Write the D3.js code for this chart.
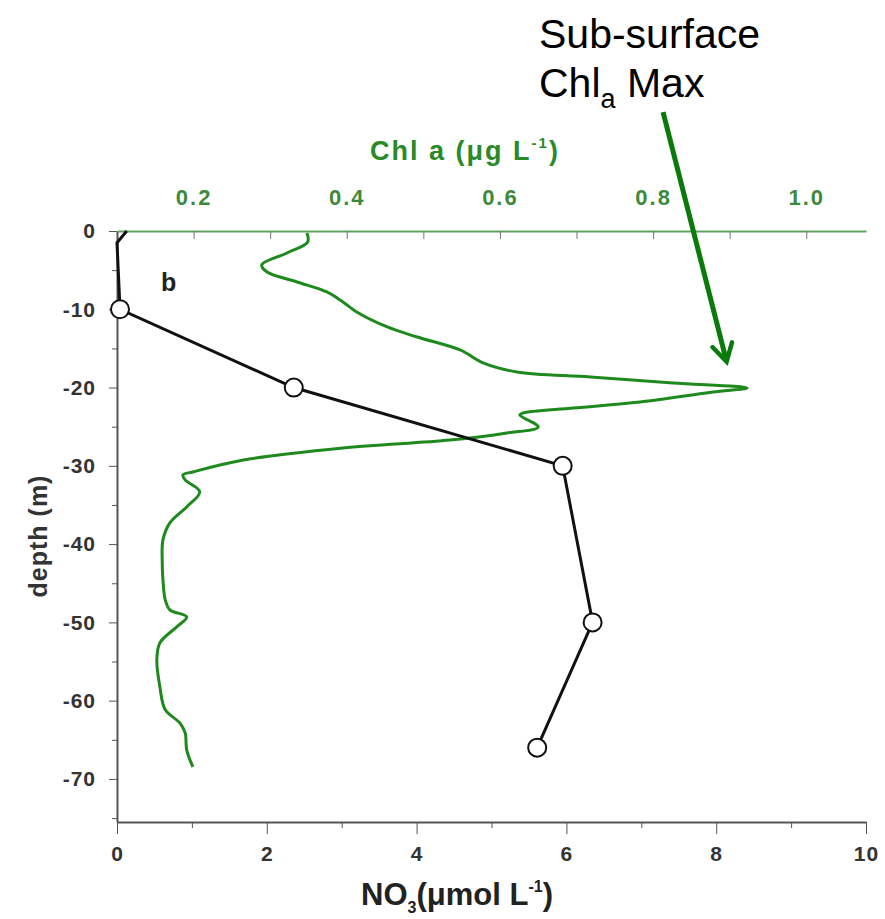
<!DOCTYPE html>
<html lang="en">
<head>
<meta charset="utf-8">
<title>NO3 and Chl a profile</title>
<script src="https://d3js.org/d3.v7.min.js"></script>
<style>
  body { margin: 0; background: #fff; }
  svg text { font-family: "Liberation Sans", Arial, sans-serif; }
  .tk text { font-weight: bold; font-size: 21px; letter-spacing: 1px; }
  .tkc text { font-weight: bold; font-size: 22px; letter-spacing: 2px; }
</style>
</head>
<body>
<script>
// NO3 profile (black line with open circles)
var no3LineDepth = [0, -1.5, -10, -20, -30, -50, -66];
var no3LineValue = [0.13, 0.0, 0.04, 2.36, 5.95, 6.35, 5.61];
var no3MarkDepth = [-10, -20, -30, -50, -66];
var no3MarkValue = [0.04, 2.36, 5.95, 6.35, 5.61];

// Chl a profile (green line)
var chlDepth = [-0.26, -1.4, -2.81, -4.34, -5.24, -6.51, -7.79, -9.07, -10.34, -12.26, -13.54, -15.2,
  -16.86, -18.01, -18.65, -19.41, -20.05, -20.56, -21.84, -22.61, -23.25, -23.5, -25.03, -25.8,
  -26.7, -27.71, -29.25, -30.78, -31.16, -31.8, -33.33, -35.25, -37.29, -39.46, -42.0, -44.57,
  -47.13, -48.4, -49.3, -50.57, -52.62, -54.79, -58.24, -61.17, -62.84, -64.11, -66.28, -68.45];
var chlValue = [0.348, 0.349, 0.322, 0.289, 0.296, 0.335, 0.374, 0.395, 0.413, 0.453, 0.492, 0.548,
  0.578, 0.622, 0.718, 0.826, 0.923, 0.878, 0.783, 0.696, 0.630, 0.626, 0.650, 0.609,
  0.535, 0.395, 0.265, 0.199, 0.186, 0.189, 0.208, 0.191, 0.169, 0.160, 0.159, 0.160,
  0.163, 0.169, 0.191, 0.178, 0.156, 0.152, 0.156, 0.163, 0.182, 0.189, 0.191, 0.199];

var no3Ticks = [0, 2, 4, 6, 8, 10];
var chlTicks = [0.2, 0.4, 0.6, 0.8, 1.0];
var depthTicks = [0, -10, -20, -30, -40, -50, -60, -70];

var w = 885, h = 919;
var mLeft = 117, mRight = 866, mTop = 231, mBottom = 822;
var green = "#1e8a1e";

var svg = d3.select("body").append("svg").attr("width", w).attr("height", h);

var x = d3.scaleLinear().domain([0, 10]).range([mLeft, mRight]);
var xc = d3.scaleLinear().domain([0.1, 1.078]).range([mLeft, mRight]);
var y = d3.scaleLinear().domain([-75.5, 0]).range([mBottom, mTop]);

var plain = function(d) { return String(d); };

// bottom axis: minor then major
svg.append("g").attr("transform", "translate(0," + mBottom + ")")
  .call(d3.axisBottom(x).tickValues(d3.range(1, 10, 2)).tickSize(6).tickFormat(""))
  .call(function(g) { g.select(".domain").remove(); })
  .selectAll("line").attr("stroke", "#555");
svg.append("g").attr("class", "tk").attr("transform", "translate(0," + mBottom + ")")
  .call(d3.axisBottom(x).tickValues(no3Ticks).tickSize(12).tickSizeOuter(0).tickPadding(12).tickFormat(plain))
  .call(function(g) {
    g.select(".domain").attr("stroke", "#555").attr("stroke-width", 2);
    g.selectAll("line").attr("stroke", "#555");
    g.selectAll("text").attr("fill", "#333");
  });

// left axis
svg.append("g").attr("transform", "translate(" + mLeft + ",0)")
  .call(d3.axisLeft(y).tickValues(d3.range(-75, 0, 10)).tickSize(5).tickFormat(""))
  .call(function(g) { g.select(".domain").remove(); })
  .selectAll("line").attr("stroke", "#555");
svg.append("g").attr("class", "tk").attr("transform", "translate(" + mLeft + ",0)")
  .call(d3.axisLeft(y).tickValues(depthTicks).tickSize(8).tickSizeOuter(0).tickPadding(13).tickFormat(plain))
  .call(function(g) {
    g.select(".domain").attr("stroke", "#555").attr("stroke-width", 2);
    g.selectAll("line").attr("stroke", "#555");
    g.selectAll("text").attr("fill", "#333");
  });

// top axis (Chl a), ticks pointing inward
svg.append("g").attr("transform", "translate(0," + mTop + ")")
  .call(d3.axisTop(xc).tickValues([0.3, 0.5, 0.7, 0.9]).tickSize(-8).tickFormat(""))
  .call(function(g) { g.select(".domain").remove(); })
  .selectAll("line").attr("stroke", "#777");
svg.append("g").attr("class", "tkc").attr("transform", "translate(0," + mTop + ")")
  .call(d3.axisTop(xc).tickValues(chlTicks).tickSize(-8).tickSizeOuter(0).tickPadding(26).tickFormat(d3.format(".1f")))
  .call(function(g) {
    g.select(".domain").attr("stroke", "#5fa35f").attr("stroke-width", 2);
    g.selectAll("line").attr("stroke", "#777");
    g.selectAll("text").attr("fill", "#3d8a3d");
  });

// axis titles
svg.append("text").attr("x", 465).attr("y", 160).attr("text-anchor", "middle")
  .attr("font-size", 27).attr("font-weight", "bold").attr("fill", "#2a8a2a")
  .attr("letter-spacing", 2)
  .html('Chl a (\u03bcg L<tspan dy="-12" font-size="15">-1</tspan><tspan dy="12">)</tspan>');

svg.append("text").attr("transform", "translate(47,536) rotate(-90)").attr("text-anchor", "middle")
  .attr("font-size", 25).attr("font-weight", "bold").attr("fill", "#333")
  .attr("letter-spacing", 1)
  .text("depth (m)");

svg.append("text").attr("x", 457).attr("y", 905).attr("text-anchor", "middle")
  .attr("font-size", 31).attr("font-weight", "bold").attr("fill", "#222")
  .html('NO<tspan dy="8" font-size="16">3</tspan><tspan dy="-8">(\u03bcmol L</tspan><tspan dy="-13" font-size="16">-1</tspan><tspan dy="13">)</tspan>');

svg.append("text").attr("x", 161).attr("y", 291).attr("font-size", 25)
  .attr("font-weight", "bold").attr("fill", "#222").text("b");

// Chl a line
var chlData = chlDepth.map(function(d, i) { return { d: d, v: chlValue[i] }; });
svg.append("path").datum(chlData)
  .attr("fill", "none").attr("stroke", green).attr("stroke-width", 3)
  .attr("stroke-linejoin", "round")
  .attr("d", d3.line().x(function(p) { return xc(p.v); }).y(function(p) { return y(p.d); }).curve(d3.curveCatmullRom));

// NO3 line + markers
var no3Data = no3LineDepth.map(function(d, i) { return { d: d, v: no3LineValue[i] }; });
svg.append("path").datum(no3Data)
  .attr("fill", "none").attr("stroke", "#111").attr("stroke-width", 3)
  .attr("d", d3.line().x(function(p) { return x(p.v); }).y(function(p) { return y(p.d); }));

svg.selectAll("circle.m").data(no3MarkDepth).enter().append("circle")
  .attr("class", "m")
  .attr("cx", function(d, i) { return x(no3MarkValue[i]); })
  .attr("cy", function(d) { return y(d); })
  .attr("r", 9).attr("fill", "#fff").attr("stroke", "#111").attr("stroke-width", 2);

// annotation
svg.append("defs").append("marker").attr("id", "ah")
  .attr("viewBox", "0 0 10 10").attr("refX", 8).attr("refY", 5)
  .attr("markerWidth", 5).attr("markerHeight", 5).attr("orient", "auto")
  .append("path").attr("d", "M1,1 L8,5 L1,9").attr("fill", "none")
  .attr("stroke", "#0a7a0a").attr("stroke-width", 1.8).attr("stroke-linecap", "round");

svg.append("line")
  .attr("x1", xc(0.813)).attr("y1", y(15.2))
  .attr("x2", xc(0.896)).attr("y2", y(-16.7))
  .attr("stroke", "#0a7a0a").attr("stroke-width", 5)
  .attr("marker-end", "url(#ah)");

svg.append("text").attr("x", 539).attr("y", 48).attr("font-size", 41).attr("fill", "#000")
  .text("Sub-surface");
svg.append("text").attr("x", 539).attr("y", 97).attr("font-size", 41).attr("fill", "#000")
  .html('Chl<tspan dy="11" font-size="27">a</tspan><tspan dy="-11"> Max</tspan>');
</script>
</body>
</html>
